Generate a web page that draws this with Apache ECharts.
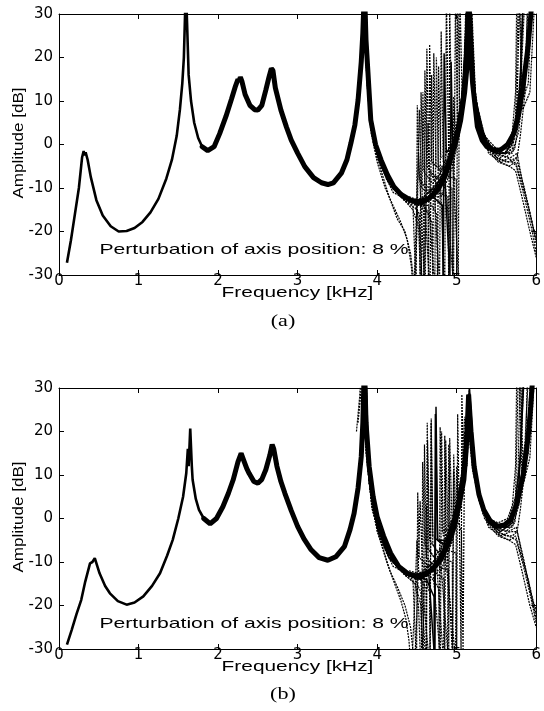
<!DOCTYPE html>
<html><head><meta charset="utf-8">
<script src="https://cdn.jsdelivr.net/npm/echarts@6/dist/echarts.min.js"></script>
<style>html,body{margin:0;padding:0;background:#fff}#c{width:544px;height:711px}</style>
</head><body><div id="c"></div>
<script>
// ---- axis ticks ----
const xTicks = [0, 1, 2, 3, 4, 5, 6];
const yTicks = [-30, -20, -10, 0, 10, 20, 30];

// ---- texts ----
const xName = 'Frequency [kHz]';
const yName = 'Amplitude [dB]';
const noteText = 'Perturbation of axis position: 8 %';
const panelLabels = ['(a)', '(b)'];

// ---- panel (a): nominal response [kHz, dB] ----
const mainA = [[0.1,-27.2],[0.15,-22],[0.2,-16],[0.25,-10],[0.29,-3],[0.31,-1.5],[0.32,-2.5],[0.335,-1.8],[0.36,-3.5],[0.4,-7.5],[0.47,-12.8],[0.55,-16.3],[0.65,-18.8],[0.75,-20],[0.85,-19.9],[0.95,-19.2],[1.05,-17.8],[1.15,-15.6],[1.25,-12.5],[1.35,-7.8],[1.42,-3.5],[1.48,2],[1.52,8],[1.55,14],[1.57,20],[1.585,30],[1.595,36],[1.61,28],[1.63,16],[1.66,10],[1.7,5],[1.75,1.5],[1.8,-0.5],[1.87,-1.4],[1.95,-0.5],[2.02,2.5],[2.1,6.5],[2.17,10.5],[2.22,13.5],[2.25,15],[2.265,14.5],[2.28,15.5],[2.3,14.5],[2.34,11.5],[2.4,9],[2.46,8],[2.5,7.9],[2.55,9],[2.6,12.5],[2.64,15.5],[2.67,17.5],[2.69,17],[2.72,13],[2.79,7.9],[2.86,4],[2.92,1],[3.0,-2],[3.09,-5.1],[3.2,-7.6],[3.3,-8.8],[3.38,-9.2],[3.45,-8.8],[3.55,-6.6],[3.62,-3.5],[3.67,0.3],[3.72,4.5],[3.76,10.2],[3.8,19],[3.82,25.6],[3.84,36],[3.86,24],[3.88,17.9],[3.92,5.6],[3.98,0],[4.05,-3.6],[4.13,-7],[4.21,-9.7],[4.3,-11.5],[4.42,-12.8],[4.52,-13.2],[4.59,-13.1],[4.68,-12],[4.76,-10.5],[4.85,-7.5],[4.92,-3.6],[5.0,1.5],[5.05,5.6],[5.1,12],[5.13,17.9],[5.15,36],[5.18,20],[5.2,14.1],[5.26,4.1],[5.32,1],[5.38,-0.5],[5.46,-1.2],[5.55,-1.3],[5.64,0],[5.72,2.6],[5.78,7],[5.84,14.1],[5.9,23],[5.93,29.4],[5.96,36]];

// ---- panel (a): perturbed responses ----
const varA1 = [[3.84,40],[3.87,15],[3.92,3],[4.0,-4],[4.1,-10],[4.2,-14],[4.3,-18],[4.38,-22],[4.43,-28],[4.46,-36],[4.49,-18],[4.52,-2],[4.55,-14],[4.7,-11],[4.85,-6],[5.0,2],[5.1,14],[5.16,38],[5.22,10],[5.35,1],[5.5,-2],[5.65,-3],[5.75,-5],[5.85,-12],[5.95,-20],[6.0,-25]];
const varA2 = [[3.85,40],[3.88,14],[3.95,2],[4.05,-6],[4.15,-12],[4.25,-17],[4.35,-20],[4.42,-25],[4.47,-33],[4.5,-20],[4.53,8],[4.56,-10],[4.7,-12],[4.85,-7],[5.0,0],[5.1,12],[5.15,40],[5.21,12],[5.35,0],[5.5,-3],[5.65,-4],[5.75,-3],[5.85,-10],[5.95,-18],[6.0,-23]];
const varA3 = [[3.83,40],[3.86,18],[3.92,4],[4.05,-4],[4.2,-10],[4.35,-13],[4.45,-15],[4.52,-19],[4.555,-34],[4.575,12],[4.6,-9],[4.7,-11],[4.85,-6],[5.0,1],[5.08,12],[5.13,40],[5.2,12],[5.3,3],[5.45,-1],[5.6,-2],[5.7,0],[5.76,10],[5.79,35],[5.83,8],[5.92,12],[6.0,40]];
const varA4 = [[3.84,40],[3.88,12],[3.95,1],[4.1,-7],[4.25,-11],[4.4,-13],[4.55,-14],[4.605,-35],[4.625,22],[4.65,-6],[4.75,-9],[4.9,-4],[5.03,5],[5.1,18],[5.14,40],[5.2,14],[5.3,4],[5.45,-1],[5.6,-2],[5.72,1],[5.8,12],[5.86,35]];
const varA5 = [[3.85,40],[3.9,8],[4.0,-3],[4.15,-9],[4.3,-12],[4.45,-13],[4.6,-14],[4.665,-34],[4.685,16],[4.71,-7],[4.8,-8],[4.95,-2],[5.08,10],[5.15,40],[5.25,6],[5.4,-1],[5.55,-3],[5.7,-1],[5.78,8],[5.83,30],[5.86,40]];
const varA6 = [[3.83,40],[3.87,16],[3.95,2],[4.1,-7],[4.3,-12],[4.5,-14],[4.65,-14],[4.725,-33],[4.745,20],[4.77,-6],[4.88,-5],[5.0,2],[5.1,15],[5.17,40],[5.24,10],[5.38,0],[5.52,-2],[5.66,-2],[5.74,4],[5.8,16],[5.84,40]];
const varA7 = [[3.84,40],[3.89,10],[4.0,-2],[4.15,-9],[4.35,-13],[4.55,-14],[4.72,-12],[4.785,-32],[4.805,26],[4.83,-4],[4.92,-3],[5.04,6],[5.12,25],[5.16,40],[5.24,9],[5.4,-2],[5.55,-4],[5.68,-3],[5.76,-2],[5.82,-8],[5.92,-16],[6.0,-22]];
const varA8 = [[3.85,40],[3.9,9],[4.02,-4],[4.2,-11],[4.4,-13],[4.6,-13],[4.8,-10],[4.85,-34],[4.87,35],[4.9,-3],[5.0,1],[5.1,14],[5.15,40],[5.22,12],[5.35,2],[5.5,-1],[5.65,-1],[5.74,6],[5.78,38],[5.82,10],[5.9,14],[5.96,40]];
const varA9 = [[3.84,40],[3.88,13],[3.97,0],[4.12,-8],[4.3,-12],[4.5,-13],[4.7,-12],[4.85,-8],[4.915,-30],[4.93,19],[4.95,-1],[5.04,5],[5.11,16],[5.15,40],[5.22,12],[5.35,1],[5.5,-2],[5.62,-2],[5.72,2],[5.8,14],[5.85,40]];
const varA10 = [[3.83,40],[3.87,15],[3.94,2],[4.08,-6],[4.25,-11],[4.45,-13],[4.65,-12],[4.85,-7],[4.96,-32],[4.985,35],[5.01,4],[5.08,12],[5.14,40],[5.2,14],[5.32,3],[5.48,-2],[5.62,-3],[5.73,-1],[5.8,8],[5.9,20],[5.95,40]];
const varA11 = [[3.84,40],[3.9,8],[4.0,-3],[4.2,-10],[4.4,-13],[4.6,-13],[4.8,-9],[4.95,-4],[5.02,-30],[5.04,35],[5.07,10],[5.12,20],[5.16,40],[5.24,8],[5.4,-1],[5.55,-2],[5.7,-2],[5.78,3],[5.86,18],[5.92,40]];
const varA12 = [[3.85,40],[3.89,11],[3.98,-1],[4.15,-9],[4.35,-13],[4.5,-15],[4.54,-20],[4.57,-35],[4.6,-25],[4.64,5],[4.67,-12],[4.8,-12],[4.95,-5],[5.06,5],[5.12,18],[5.16,40],[5.23,9],[5.38,-1],[5.52,-4],[5.66,-5],[5.74,-6],[5.82,-12],[5.92,-20],[6.0,-26]];
const varA13 = [[4.3,-12],[4.45,-14],[4.49,-34],[4.505,9],[4.53,-8],[4.65,-11],[4.8,-8],[4.95,-1],[5.06,8],[5.12,22],[5.15,40]];
const varA14 = [[4.3,-11],[4.45,-13],[4.53,-16],[4.54,-33],[4.552,12],[4.58,-6],[4.7,-9],[4.86,-5],[5.0,3],[5.1,16],[5.14,40]];
const varA15 = [[4.35,-12],[4.5,-13],[4.585,-15],[4.59,-36],[4.6,17],[4.625,-5],[4.75,-8],[4.9,-3],[5.04,6],[5.12,24],[5.16,40]];
const varA16 = [[4.4,-12],[4.55,-13],[4.64,-16],[4.645,-35],[4.66,23],[4.685,-4],[4.8,-6],[4.95,0],[5.08,12],[5.15,40]];
const varA17 = [[4.4,-13],[4.6,-14],[4.69,-18],[4.7,-35],[4.712,21],[4.74,-5],[4.85,-5],[5.0,2],[5.1,16],[5.15,40]];
const varA18 = [[4.45,-13],[4.65,-13],[4.75,-16],[4.76,-34],[4.772,18],[4.8,-3],[4.92,-2],[5.05,7],[5.13,26],[5.17,40]];
const varA19 = [[4.45,-13],[4.7,-12],[4.82,-14],[4.83,-35],[4.842,21],[4.87,-2],[4.97,1],[5.08,12],[5.15,40]];
const varA20 = [[4.5,-13],[4.75,-11],[4.89,-12],[4.9,-33],[4.912,32],[4.94,0],[5.02,4],[5.1,16],[5.14,40]];
const varA21 = [[4.5,-13],[4.8,-9],[4.94,-10],[4.95,-34],[4.962,11],[4.99,1],[5.06,8],[5.12,22],[5.16,40]];
const varA22 = [[4.55,-13],[4.85,-7],[4.995,-8],[5.0,-34],[5.012,36],[5.04,6],[5.1,14],[5.15,40]];
const varA23 = [[5.15,40],[5.2,16],[5.28,5],[5.38,0],[5.5,-3],[5.62,-4],[5.7,-4],[5.76,-3],[5.8,2],[5.86,12],[5.9,40]];
const varA24 = [[5.16,40],[5.22,14],[5.3,4],[5.42,-1],[5.55,-4],[5.66,-5],[5.74,-4],[5.82,-9],[5.9,-14],[5.96,-19],[6.0,-21]];
const varA25 = [[5.14,40],[5.19,15],[5.28,4],[5.4,0],[5.52,-1],[5.64,0],[5.7,3],[5.74,12],[5.76,40]];

// ---- panel (b): nominal response ----
const mainB = [[0.1,-29],[0.16,-25.6],[0.22,-22],[0.28,-18.7],[0.33,-14.5],[0.39,-10.3],[0.42,-10],[0.45,-9.1],[0.51,-12.6],[0.58,-15.5],[0.64,-17.2],[0.74,-19],[0.85,-19.8],[0.95,-19.3],[1.06,-17.9],[1.17,-15.5],[1.27,-12.6],[1.36,-8.5],[1.43,-4.9],[1.5,0],[1.56,5],[1.6,10.4],[1.62,16],[1.63,12],[1.65,20.7],[1.67,12],[1.68,8.9],[1.72,4.5],[1.76,2],[1.82,0],[1.9,-1.2],[1.98,0],[2.06,2.7],[2.13,5.8],[2.19,8.9],[2.25,13],[2.29,15],[2.32,13.5],[2.36,11.5],[2.39,10.4],[2.45,8.5],[2.5,8.1],[2.55,9],[2.6,11.2],[2.65,14.5],[2.68,17],[2.7,16],[2.74,12],[2.79,8.5],[2.84,5.8],[2.92,1.8],[3.0,-1.8],[3.08,-4.7],[3.17,-7.2],[3.27,-9],[3.38,-9.6],[3.48,-8.8],[3.59,-6.4],[3.66,-2.5],[3.71,1.2],[3.76,7],[3.8,14.2],[3.82,22],[3.84,36],[3.86,22],[3.9,11.9],[3.95,5],[4.0,0.4],[4.08,-4],[4.17,-8],[4.27,-11],[4.38,-12.6],[4.48,-13.2],[4.59,-13],[4.7,-11.6],[4.8,-9.5],[4.9,-5.5],[4.97,-1.8],[5.03,3],[5.09,8.9],[5.12,16],[5.15,28.5],[5.18,20],[5.22,11.9],[5.28,5.5],[5.34,2],[5.42,-0.5],[5.51,-1.8],[5.6,-1.5],[5.68,-0.3],[5.76,3.5],[5.84,10.4],[5.9,19],[5.93,25.7],[5.97,36]];

// ---- panel (b): perturbed responses ----
const varB1 = [[3.84,40],[3.87,14],[3.93,3],[4.02,-4],[4.12,-10],[4.22,-15],[4.3,-19],[4.36,-23],[4.4,-28],[4.43,-36],[4.47,-20],[4.5,-5],[4.53,-14],[4.7,-12],[4.85,-7],[5.0,0],[5.1,12],[5.16,30],[5.22,10],[5.35,0],[5.5,-3],[5.65,-4],[5.75,-5],[5.84,-11],[5.93,-18],[6.0,-24]];
const varB2 = [[3.85,40],[3.88,12],[3.96,1],[4.06,-6],[4.16,-12],[4.26,-16],[4.35,-20],[4.42,-25],[4.47,-34],[4.5,-22],[4.54,4],[4.57,-11],[4.72,-11],[4.88,-5],[5.02,2],[5.1,14],[5.14,26],[5.2,12],[5.33,1],[5.5,-2],[5.65,-3],[5.75,-2],[5.85,-10],[5.95,-19],[6.0,-23]];
const varB3 = [[3.82,40],[3.85,20],[3.92,5],[4.05,-4],[4.2,-10],[4.35,-13],[4.48,-15],[4.55,-20],[4.58,-34],[4.595,17],[4.62,-9],[4.72,-11],[4.86,-6],[5.0,1],[5.08,10],[5.13,24],[5.2,11],[5.3,3],[5.45,-1],[5.6,-2],[5.7,0],[5.77,9],[5.8,35],[5.84,8],[5.92,14],[6.0,40]];
const varB4 = [[3.76,22],[3.8,30],[3.82,40],[3.86,16],[3.94,2],[4.1,-7],[4.25,-11],[4.4,-13],[4.56,-14],[4.665,-35],[4.68,23],[4.7,-6],[4.8,-9],[4.92,-4],[5.04,4],[5.1,12],[5.15,28],[5.21,12],[5.32,3],[5.46,-1],[5.6,-2],[5.72,1],[5.8,13],[5.86,40]];
const varB5 = [[3.85,40],[3.9,9],[4.0,-2],[4.15,-9],[4.3,-12],[4.5,-14],[4.65,-13],[4.725,-33],[4.74,25.7],[4.76,-5],[4.86,-6],[5.0,1],[5.08,9],[5.12,20],[5.16,30],[5.24,8],[5.4,-1],[5.55,-3],[5.7,-1],[5.78,7],[5.84,30],[5.87,40]];
const varB6 = [[3.83,40],[3.87,15],[3.95,2],[4.1,-7],[4.3,-12],[4.5,-14],[4.7,-12],[4.795,-32],[4.81,20],[4.83,-4],[4.93,-3],[5.04,5],[5.11,18],[5.14,25],[5.22,10],[5.38,0],[5.52,-2],[5.66,-2],[5.74,3],[5.8,15],[5.84,40]];
const varB7 = [[3.84,40],[3.89,10],[4.0,-2],[4.15,-9],[4.35,-13],[4.55,-14],[4.75,-11],[4.835,-33],[4.85,19],[4.87,-3],[4.95,-2],[5.05,6],[5.1,23.4],[5.13,15],[5.18,22],[5.25,8],[5.4,-2],[5.55,-4],[5.68,-3],[5.76,-3],[5.83,-9],[5.92,-16],[6.0,-22]];
const varB8 = [[3.85,40],[3.9,8],[4.02,-4],[4.2,-11],[4.4,-13],[4.6,-13],[4.8,-10],[4.885,-30],[4.9,17],[4.92,-2],[5.02,3],[5.1,13],[5.15,26],[5.22,11],[5.35,1],[5.5,-2],[5.64,-1],[5.74,5],[5.78,38],[5.82,10],[5.9,15],[5.96,40]];
const varB9 = [[3.84,40],[3.88,13],[3.97,0],[4.12,-8],[4.3,-12],[4.5,-13],[4.7,-12],[4.88,-7],[4.945,-31],[4.96,11],[4.98,-1],[5.05,5],[5.11,15],[5.15,27],[5.22,11],[5.35,1],[5.5,-2],[5.62,-2],[5.72,2],[5.8,14],[5.85,40]];
const varB10 = [[3.74,20],[3.78,28],[3.82,40],[3.86,15],[3.94,2],[4.08,-6],[4.25,-11],[4.45,-13],[4.65,-12],[4.85,-7],[4.985,-32],[5.0,12],[5.02,2],[5.08,10],[5.13,24],[5.2,13],[5.32,3],[5.48,-2],[5.62,-3],[5.73,-1],[5.8,8],[5.9,22],[5.95,40]];
const varB11 = [[3.84,40],[3.9,8],[4.0,-3],[4.2,-10],[4.4,-13],[4.55,-14],[4.615,-34],[4.63,22],[4.65,-7],[4.75,-10],[4.9,-5],[5.0,0],[5.06,-3],[5.08,-30],[5.1,20],[5.13,12],[5.16,28],[5.24,8],[5.4,-1],[5.55,-2],[5.7,-2],[5.78,3],[5.86,18],[5.92,40]];
const varB12 = [[3.85,40],[3.89,11],[3.98,-1],[4.15,-9],[4.35,-13],[4.48,-15],[4.52,-20],[4.55,-35],[4.58,-25],[4.62,3],[4.65,-12],[4.8,-12],[4.95,-5],[5.06,5],[5.12,17],[5.16,26],[5.23,9],[5.38,-1],[5.52,-4],[5.66,-5],[5.74,-6],[5.82,-12],[5.92,-20],[6.0,-25]];
const varB13 = [[4.3,-12],[4.45,-14],[4.495,-34],[4.51,6],[4.53,-9],[4.65,-11],[4.8,-8],[4.95,-1],[5.06,8],[5.12,20],[5.15,27]];
const varB14 = [[4.3,-11],[4.48,-14],[4.55,-17],[4.56,-33],[4.572,13],[4.6,-6],[4.72,-9],[4.86,-5],[5.0,3],[5.1,15],[5.14,25]];
const varB15 = [[4.35,-12],[4.55,-14],[4.615,-16],[4.62,-36],[4.633,18],[4.66,-5],[4.78,-8],[4.92,-3],[5.05,7],[5.12,20],[5.16,27]];
const varB16 = [[4.4,-12],[4.58,-13],[4.66,-17],[4.665,-35],[4.678,22],[4.7,-4],[4.82,-6],[4.96,0],[5.08,11],[5.15,28]];
const varB17 = [[4.4,-13],[4.62,-14],[4.715,-18],[4.72,-35],[4.732,24],[4.76,-5],[4.87,-5],[5.0,2],[5.1,14],[5.15,26]];
const varB18 = [[4.45,-13],[4.66,-13],[4.775,-16],[4.78,-34],[4.792,21],[4.82,-3],[4.93,-2],[5.05,7],[5.12,21],[5.16,27]];
const varB19 = [[4.45,-13],[4.7,-12],[4.845,-14],[4.85,-35],[4.862,18],[4.89,-2],[4.98,1],[5.08,12],[5.14,26]];
const varB20 = [[4.5,-13],[4.75,-11],[4.895,-12],[4.9,-33],[4.912,18.5],[4.94,0],[5.02,4],[5.1,15],[5.14,24]];
const varB21 = [[4.5,-13],[4.8,-9],[4.945,-10],[4.95,-34],[4.962,14.7],[4.99,1],[5.06,8],[5.12,20],[5.16,27]];
const varB22 = [[4.55,-13],[4.85,-7],[4.995,-8],[5.0,-34],[5.012,24],[5.03,4],[5.055,-30],[5.065,28.5],[5.09,10],[5.15,26]];
const varB23 = [[5.15,27],[5.2,15],[5.28,5],[5.38,0],[5.5,-3],[5.62,-4],[5.7,-4],[5.76,-3],[5.8,2],[5.86,12],[5.9,40]];
const varB24 = [[5.16,26],[5.22,13],[5.3,4],[5.42,-1],[5.55,-4],[5.66,-5],[5.74,-4],[5.82,-9],[5.9,-14],[5.96,-19],[6.0,-21]];
const varB25 = [[5.14,25],[5.19,15],[5.28,4],[5.4,0],[5.52,-1],[5.64,0],[5.7,3],[5.74,12],[5.76,40]];

const variantsA = [varA1, varA2, varA3, varA4, varA5, varA6, varA7, varA8, varA9, varA10, varA11, varA12, varA13, varA14, varA15, varA16, varA17, varA18, varA19, varA20, varA21, varA22, varA23, varA24, varA25];
const variantsB = [varB1, varB2, varB3, varB4, varB5, varB6, varB7, varB8, varB9, varB10, varB11, varB12, varB13, varB14, varB15, varB16, varB17, varB18, varB19, varB20, varB21, varB22, varB23, varB24, varB25];
const solidA = [8, 18];   // darker spike curves
const solidB = [4, 16];

// ---------------- build chart ----------------
const chart = echarts.init(document.getElementById('c'), null, {renderer: 'canvas'});
const TICK_FONT = 'DejaVu Sans';
const grids = [
  {left: 59, top: 14, width: 479, height: 261},
  {left: 59, top: 388, width: 479, height: 261}
];
function xAx(gi, pos) {
  return {
    type: 'value', gridIndex: gi, position: pos,
    min: xTicks[0], max: xTicks[xTicks.length - 1], interval: xTicks[1] - xTicks[0],
    axisLine: {show: true, onZero: false, lineStyle: {color: '#000', width: 1}},
    axisTick: {show: true, inside: true, length: 5, lineStyle: {color: '#000'}},
    axisLabel: {show: pos === 'bottom', margin: -1, color: '#000', fontFamily: TICK_FONT, fontSize: 15},
    splitLine: {show: false}
  };
}
function yAx(gi, pos) {
  return {
    type: 'value', gridIndex: gi, position: pos,
    min: yTicks[0], max: yTicks[yTicks.length - 1], interval: yTicks[1] - yTicks[0],
    axisLine: {show: true, onZero: false, lineStyle: {color: '#000', width: 1}},
    axisTick: {show: true, inside: true, length: 5, lineStyle: {color: '#000'}},
    axisLabel: {show: pos === 'left', margin: 6, color: '#000', fontFamily: TICK_FONT, fontSize: 15},
    splitLine: {show: false}
  };
}
const series = [];
function addPanel(gi, main, variants, solid) {
  const xi = gi * 2, yi = gi * 2;
  variants.forEach((v, i) => {
    const isSolid = solid.indexOf(i) >= 0;
    series.push({
      type: 'line', xAxisIndex: xi, yAxisIndex: yi, data: v, showSymbol: false, silent: true,
      lineStyle: {color: '#000', width: isSolid ? 1.5 : 1.2, type: isSolid ? 'solid' : [2, 1]}
    });
  });
  series.push({
    type: 'line', xAxisIndex: xi, yAxisIndex: yi, data: main, showSymbol: false, silent: true,
    lineStyle: {color: '#000', width: 2.6}
  });
  series.push({
    type: 'line', xAxisIndex: xi, yAxisIndex: yi, data: main.filter(p => p[0] >= 1.8), showSymbol: false, silent: true,
    lineStyle: {color: '#000', width: 5, cap: 'round'}
  });
}
addPanel(0, mainA, variantsA, solidA);
addPanel(1, mainB, variantsB, solidB);

const SANS = '15px "Liberation Sans", Arial, sans-serif';
const graphics = [];
[0, 1].forEach(gi => {
  const dy = gi === 0 ? 0 : 374;
  graphics.push({type: 'text', x: 297.5, y: 292.5 + dy, scaleX: 1.39,
    style: {text: xName, font: SANS, fill: '#000', textAlign: 'center', textVerticalAlign: 'middle'}});
  graphics.push({type: 'text', x: 18.5, y: 143 + dy, rotation: Math.PI / 2, scaleX: 1.14,
    style: {text: yName, font: SANS, fill: '#000', textAlign: 'center', textVerticalAlign: 'middle'}});
  graphics.push({type: 'text', x: 254, y: 250 + dy, scaleX: 1.41,
    style: {text: noteText, font: SANS, fill: '#000', textAlign: 'center', textVerticalAlign: 'middle'}});
  graphics.push({type: 'text', x: 283, y: 322 + dy - (gi ? 1 : 0), scaleX: 1.3,
    style: {text: panelLabels[gi], font: '17px "Liberation Serif", "Times New Roman", serif', fill: '#000', textAlign: 'center', textVerticalAlign: 'middle'}});
});

chart.setOption({
  animation: false,
  backgroundColor: '#fff',
  grid: grids,
  xAxis: [xAx(0, 'bottom'), xAx(0, 'top'), xAx(1, 'bottom'), xAx(1, 'top')],
  yAxis: [yAx(0, 'left'), yAx(0, 'right'), yAx(1, 'left'), yAx(1, 'right')],
  series: series,
  graphic: graphics
});
</script>
</body></html>
